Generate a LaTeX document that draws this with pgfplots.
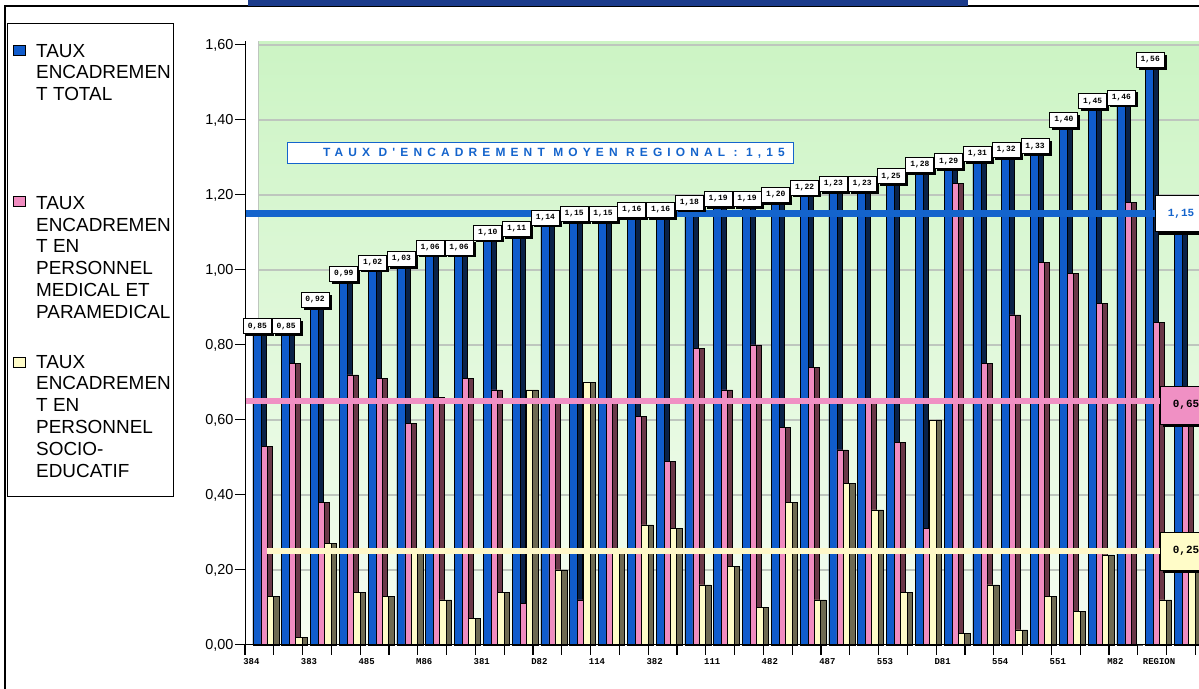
\documentclass[border=0pt]{standalone}
\usepackage{pgfplots}
\pgfplotsset{compat=1.18}
\usepackage{pgfplotstable}
\usepackage{fontspec}
\setmainfont{Liberation Sans}
\newfontfamily\monofont{Liberation Mono}
\newfontfamily\spacedfont[LetterSpace=43]{Liberation Sans}
\usetikzlibrary{shadows}

\definecolor{bfront}{RGB}{16,92,204}
\definecolor{bside}{RGB}{10,34,72}
\definecolor{pfront}{RGB}{240,140,192}
\definecolor{pside}{RGB}{106,56,72}
\definecolor{yfront}{RGB}{255,252,200}
\definecolor{yside}{RGB}{110,106,82}
\definecolor{bline}{RGB}{20,100,204}
\definecolor{pline}{RGB}{240,144,196}
\definecolor{yline}{RGB}{255,248,200}
\definecolor{gtop}{RGB}{204,244,196}
\definecolor{gbot}{RGB}{246,253,242}
\definecolor{gridc}{RGB}{190,198,190}
\definecolor{navy}{RGB}{28,60,140}

\pgfplotstableread{
x tot med soc
0 0.85 0.53 0.13
1 0.85 0.75 0.02
2 0.92 0.38 0.27
3 0.99 0.72 0.14
4 1.02 0.71 0.13
5 1.03 0.59 0.25
6 1.06 0.66 0.12
7 1.06 0.71 0.07
8 1.10 0.68 0.14
9 1.11 0.11 0.68
10 1.14 0.65 0.20
11 1.15 0.12 0.70
12 1.15 0.65 0.25
13 1.16 0.61 0.32
14 1.16 0.49 0.31
15 1.18 0.79 0.16
16 1.19 0.68 0.21
17 1.19 0.80 0.10
18 1.20 0.58 0.38
19 1.22 0.74 0.12
20 1.23 0.52 0.43
21 1.23 0.65 0.36
22 1.25 0.54 0.14
23 1.28 0.31 0.60
24 1.29 1.23 0.03
25 1.31 0.75 0.16
26 1.32 0.88 0.04
27 1.33 1.02 0.13
28 1.40 0.99 0.09
29 1.45 0.91 0.24
30 1.46 1.18 0.00
31 1.56 0.86 0.12
32 1.15 0.65 0.25
}\data

\newcommand{\cnum}{\pgfmathprintnumber[fixed,fixed zerofill,precision=2,use comma,assume math mode=true]{\pgfplotspointmeta}}
\newcommand{\legline}[2]{\node[anchor=base west, inner sep=0pt, font=\fontsize{19}{19}\selectfont] at (36,#1) {#2};}

\begin{document}
\begin{tikzpicture}[x=1bp,y=1bp]
\useasboundingbox (0,0) rectangle (1199,689);
\clip (0,0) rectangle (1199,689);
\fill[white] (0,0) rectangle (1199,689);

\begin{axis}[
  at={(245bp,44bp)}, anchor=south west,
  scale only axis, width=964.8bp, height=603.75bp,
  xmin=-0.5, xmax=33, ymin=0, ymax=1.61,
  axis x line*=bottom, axis y line*=left,
  axis line style={black, line width=1bp, -},
  axis on top, clip=false,
  tick align=outside,
  major tick length=10bp,
  xtick={-0.5,0.5,...,32.5}, xticklabels={},
  xtick style={black, line width=1.2bp},
  extra x ticks={0,2,...,32},
  extra x tick labels={384,383,485,M86,381,D82,114,382,111,482,487,553,D81,554,551,M82,REGION\hspace*{28bp}},
  extra x tick style={tick style={draw=none}},
  xticklabel style={font=\monofont\bfseries\fontsize{9}{9}\selectfont, xshift=-8bp},
  ytick={0,0.2,0.4,0.6,0.8,1,1.2,1.4,1.6},
  ytick style={black, line width=1bp},
  yticklabel={\pgfmathprintnumber[fixed,fixed zerofill,precision=2,use comma,assume math mode=true]{\tick}},
  yticklabel style={font=\fontsize{14.5}{14.5}\selectfont, xshift=2bp},
]
% back wall
\fill[top color=gtop, bottom color=gbot] ([xshift=13bp]axis cs:-0.5,0) rectangle (axis cs:33,1.61);
\draw[gridc, line width=1bp] ([xshift=13bp]axis cs:-0.5,0) -- ([xshift=13bp]axis cs:-0.5,1.61);
\pgfplotsinvokeforeach{0.2,0.4,0.6,0.8,1.0,1.2,1.4,1.6}{
  \draw[gridc, line width=1.2bp] ([xshift=13bp]axis cs:-0.5,#1) -- (axis cs:33,#1);
}
% total
\addplot[ybar, bar width=13bp, bar shift=0bp, fill=bside, draw=black, line width=0.6bp] table[x=x,y=tot]{\data};
\addplot[ybar, bar width=8bp, bar shift=-2.5bp, fill=bfront, draw=black, line width=0.6bp] table[x=x,y=tot]{\data};
% medical
\addplot[ybar, bar width=11bp, bar shift=7bp, fill=pside, draw=black, line width=0.6bp] table[x=x,y=med]{\data};
\addplot[ybar, bar width=6bp, bar shift=4.5bp, fill=pfront, draw=black, line width=0.6bp] table[x=x,y=med]{\data};
% socio
\addplot[ybar, bar width=12bp, bar shift=13.5bp, fill=yside, draw=black, line width=0.6bp] table[x=x,y=soc]{\data};
\addplot[ybar, bar width=6.5bp, bar shift=10.75bp, fill=yfront, draw=black, line width=0.6bp] table[x=x,y=soc]{\data};
% data labels
\addplot[draw=none, point meta=y, restrict x to domain=-1:31.5,
  nodes near coords={\cnum},
  every node near coord/.append style={anchor=center, xshift=-2bp, fill=white, draw=black, line width=0.7bp,
    minimum width=28bp, minimum height=15bp, inner sep=1bp, text=black,
    font=\monofont\bfseries\fontsize{8}{8}\selectfont,
    drop shadow={shadow xshift=2.5bp, shadow yshift=-2.5bp, opacity=1, fill=black}}]
  table[x=x,y=tot]{\data};
% regional averages
\addplot[bline, line width=7bp] coordinates {(-0.5,1.15) (31.6,1.15)};
\addplot[pline, line width=6bp] coordinates {(-0.5,0.65) (31.6,0.65)};
\addplot[yline, line width=6bp] coordinates {(0.27,0.25) (31.6,0.25)};
\addplot[draw=none, point meta=y, restrict x to domain=31.5:33,
  nodes near coords={\cnum},
  every node near coord/.append style={anchor=center, fill=white, draw=black, line width=0.8bp,
    minimum width=52bp, minimum height=36bp, inner sep=1bp, text=bline,
    font=\monofont\bfseries\fontsize{11}{11}\selectfont,
    drop shadow={shadow xshift=2.5bp, shadow yshift=-3bp, opacity=1, fill=black}}]
  table[x=x,y=tot]{\data};
\addplot[draw=none, point meta=y, restrict x to domain=31.5:33,
  nodes near coords={\cnum},
  every node near coord/.append style={anchor=center, xshift=5bp, yshift=-4bp, fill=pline, draw=black, line width=0.8bp,
    minimum width=52bp, minimum height=38bp, inner sep=1bp, text=black,
    font=\monofont\bfseries\fontsize{11}{11}\selectfont,
    drop shadow={shadow xshift=2.5bp, shadow yshift=-3bp, opacity=1, fill=black}}]
  table[x=x,y=med]{\data};
\addplot[draw=none, point meta=y, restrict x to domain=31.5:33,
  nodes near coords={\cnum},
  every node near coord/.append style={anchor=center, xshift=5bp, fill=yfront, draw=black, line width=0.8bp,
    minimum width=52bp, minimum height=38bp, inner sep=1bp, text=black,
    font=\monofont\bfseries\fontsize{11}{11}\selectfont,
    drop shadow={shadow xshift=2.5bp, shadow yshift=-3bp, opacity=1, fill=black}}]
  table[x=x,y=soc]{\data};
\end{axis}

% caption box inside chart
\draw[bline, line width=1bp, fill=white] (287,525) rectangle (793,546);
\node[inner sep=0pt, text=bline, font={\spacedfont\bfseries\fontsize{12}{12}\selectfont}] at (554,535.5)
  {TAUX D'ENCADREMENT MOYEN REGIONAL : 1,15};

% frame and title bar
\draw[black, line width=1.5bp] (5,0) -- (5,683) -- (1199,683);
\fill[navy] (248,683) rectangle (968,689);

% legend
\draw[black, line width=1bp, fill=white] (7,192) rectangle (173,665);
\draw[black, line width=0.6bp, fill=bfront] (13.5,634) rectangle (25,644);
\draw[black, line width=0.6bp, fill=pfront] (13.5,482.3) rectangle (25,492.3);
\draw[black, line width=0.6bp, fill=yfront] (13.5,322) rectangle (25,332);
\legline{631.7}{TAUX}
\legline{610}{ENCADREMEN}
\legline{588.3}{T TOTAL}
\legline{479.7}{TAUX}
\legline{457.3}{ENCADREMEN}
\legline{436}{T EN}
\legline{414}{PERSONNEL}
\legline{392.3}{MEDICAL ET}
\legline{370.7}{PARAMEDICAL}
\legline{320.7}{TAUX}
\legline{299}{ENCADREMEN}
\legline{277}{T EN}
\legline{255}{PERSONNEL}
\legline{233.3}{SOCIO-}
\legline{211.5}{EDUCATIF}
\end{tikzpicture}
\end{document}
